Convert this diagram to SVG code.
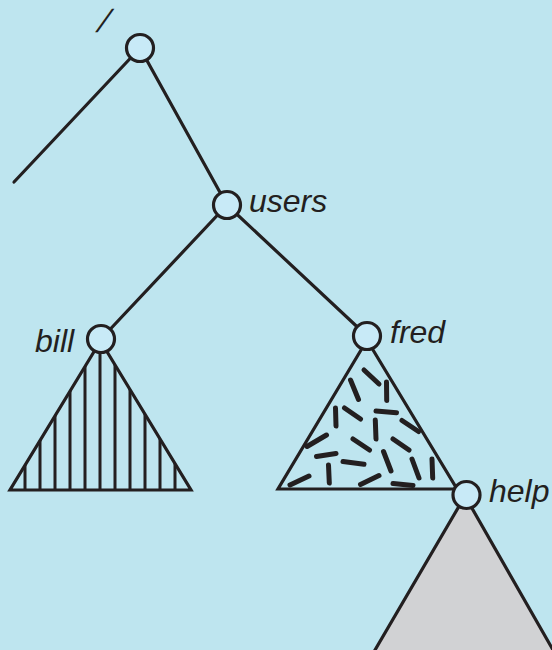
<svg xmlns="http://www.w3.org/2000/svg" width="552" height="650" viewBox="0 0 552 650">
<style>
.edge{stroke:#231f20;stroke-width:3.2;fill:none;stroke-linecap:round}
.node{fill:#c8eaf7;stroke:#231f20;stroke-width:3.2}
.lbl{font-family:"Liberation Sans",Arial,sans-serif;font-style:italic;font-size:32px;fill:#231f20}
.tri{stroke:#231f20;stroke-width:3.2;stroke-linejoin:miter}
.hatch{stroke:#231f20;stroke-width:3}
.dash{stroke:#231f20;stroke-width:5;stroke-linecap:round}
</style>
<defs>
<clipPath id="billClip"><polygon points="100.5,341 10,490 191,490"/></clipPath>
</defs>
<rect width="552" height="650" fill="#bee5ef"/>
<g id="connectors">
<line class="edge" x1="140" y1="48" x2="14" y2="182"/>
<line class="edge" x1="140" y1="48" x2="227" y2="205"/>
<line class="edge" x1="227" y1="205" x2="101" y2="339"/>
<line class="edge" x1="227" y1="205" x2="367" y2="336"/>
</g>
<g id="bill-tree">
<polygon class="tri" points="100.5,341 10,490 191,490" fill="none"/>
<g clip-path="url(#billClip)">
<line class="hatch" x1="25" y1="330" x2="25" y2="490"/>
<line class="hatch" x1="40" y1="330" x2="40" y2="490"/>
<line class="hatch" x1="55" y1="330" x2="55" y2="490"/>
<line class="hatch" x1="70" y1="330" x2="70" y2="490"/>
<line class="hatch" x1="85" y1="330" x2="85" y2="490"/>
<line class="hatch" x1="100" y1="330" x2="100" y2="490"/>
<line class="hatch" x1="115" y1="330" x2="115" y2="490"/>
<line class="hatch" x1="130" y1="330" x2="130" y2="490"/>
<line class="hatch" x1="145" y1="330" x2="145" y2="490"/>
<line class="hatch" x1="160" y1="330" x2="160" y2="490"/>
<line class="hatch" x1="175" y1="330" x2="175" y2="490"/>
</g>
</g>
<g id="fred-tree">
<polygon class="tri" points="367,340 278,489 457,489" fill="none"/>
<line class="dash" x1="364" y1="370" x2="379" y2="384"/>
<line class="dash" x1="350.5" y1="380" x2="358.5" y2="399.5"/>
<line class="dash" x1="386.5" y1="382" x2="386.7" y2="400.5"/>
<line class="dash" x1="335.5" y1="408" x2="336" y2="426"/>
<line class="dash" x1="344.5" y1="408" x2="360.5" y2="419"/>
<line class="dash" x1="376" y1="411" x2="396.5" y2="412.7"/>
<line class="dash" x1="375.3" y1="420" x2="376" y2="439"/>
<line class="dash" x1="402" y1="420.5" x2="418.5" y2="431.5"/>
<line class="dash" x1="307" y1="446.5" x2="326.5" y2="435"/>
<line class="dash" x1="353" y1="439" x2="369.5" y2="450"/>
<line class="dash" x1="393" y1="439" x2="409" y2="450"/>
<line class="dash" x1="316.5" y1="456.5" x2="336" y2="453.5"/>
<line class="dash" x1="383.5" y1="451.5" x2="391" y2="471"/>
<line class="dash" x1="343" y1="461.5" x2="364" y2="464.3"/>
<line class="dash" x1="328.5" y1="465" x2="329.3" y2="483"/>
<line class="dash" x1="412" y1="459" x2="419" y2="478"/>
<line class="dash" x1="432" y1="459" x2="432.7" y2="478"/>
<line class="dash" x1="290" y1="485" x2="309" y2="476"/>
<line class="dash" x1="360.5" y1="484.5" x2="379" y2="475.5"/>
<line class="dash" x1="393" y1="483.5" x2="413" y2="485.5"/>
</g>
<g id="help-tree">
<polygon class="tri" points="465,496 371.5,656 556.5,656" fill="#d1d2d4"/>
</g>
<g id="root">
<circle class="node" cx="140" cy="48" r="13.5"/>
<text class="lbl" x="0" y="0" font-size="33" transform="translate(97,32) skewX(-14)">/</text>
</g>
<g id="users">
<circle class="node" cx="227" cy="205" r="13.5"/>
<text class="lbl" x="249" y="212">users</text>
</g>
<g id="bill">
<circle class="node" cx="101" cy="339" r="13.5"/>
<text class="lbl" x="35" y="352">bill</text>
</g>
<g id="fred">
<circle class="node" cx="367" cy="336" r="13.5"/>
<text class="lbl" x="390" y="343">fred</text>
</g>
<g id="help">
<circle class="node" cx="466.5" cy="495" r="13.5"/>
<text class="lbl" x="489" y="502">help</text>
</g>
</svg>
